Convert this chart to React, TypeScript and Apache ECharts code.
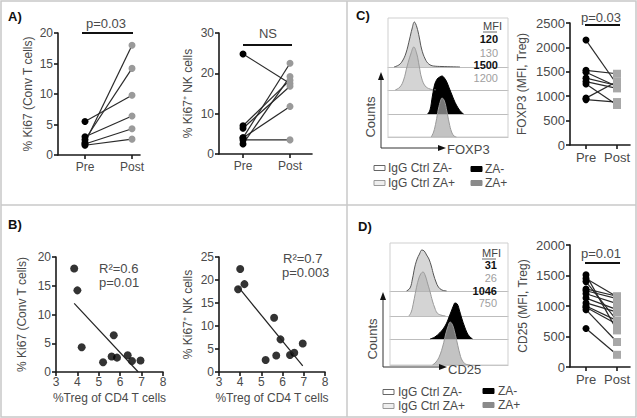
import React, { useEffect, useRef } from "react";
import * as echarts from "echarts";

// ---------- data ----------
const prePostLabels = ["Pre", "Post"];

// Panel A
const aConvPre = [5.5, 2.0, 2.5, 3.0, 1.8, 1.6];
const aConvPost = [9.8, 18.0, 14.2, 6.4, 4.3, 2.6];
const aNkPre = [24.8, 7.0, 6.4, 4.0, 2.5, 4.0, 3.5];
const aNkPost = [17.5, 18.3, 16.8, 22.5, 19.2, 11.8, 3.5];

// Panel B
const bTregConv = [3.85, 4.0, 4.2, 5.2, 5.6, 5.7, 5.85, 6.35, 6.55, 6.95];
const bConvKi67 = [18, 14.2, 4.3, 1.7, 2.7, 6.4, 2.5, 2.9, 1.9, 2.0];
const bTregNk = [3.9, 4.0, 4.2, 5.2, 5.6, 5.7, 5.9, 6.35, 6.55, 6.95];
const bNkKi67 = [18, 22.4, 19.1, 2.6, 11.8, 3.6, 7.1, 3.7, 4.2, 6.2];

// Panel C (FOXP3 MFI)
const cPre = [2150, 1530, 1490, 1370, 1300, 1250, 960, 930];
const cPost = [1240, 1460, 1200, 1220, 1160, 820, 1300, 880];
const cMfi = ["120", "130", "1500", "1200"];

// Panel D (CD25 MFI)
const dPre = [1510, 1450, 1400, 1280, 1250, 1200, 1130, 1050, 1000, 980, 940, 630];
const dPost = [600, 1150, 760, 1160, 1120, 1040, 940, 900, 760, 700, 410, 200];
const dMfi = ["31", "26", "1046", "750"];

// Histograms: [fluorescence position 0-100, counts]
const cHistIgGMinus = [[5, 0], [9, 2], [12, 6], [15, 14], [18, 28], [20, 38], [22, 45], [24, 40], [26, 30], [28, 18], [31, 8], [34, 3], [38, 1], [45, 0.5], [60, 0]];
const cHistIgGPlus = [[6, 0], [10, 3], [13, 10], [16, 24], [19, 36], [21.5, 43], [24, 36], [26, 24], [28, 12], [31, 4], [35, 1], [40, 0]];
const cHistZAMinus = [[33, 0], [35, 4], [37, 18], [39, 30], [41, 35], [43, 37], [45, 38], [47, 36], [49, 32], [51, 26], [53, 20], [55, 14], [57, 9], [59, 5], [61, 2], [63, 0]];
const cHistZAPlus = [[36, 0], [38, 5], [40, 15], [42, 28], [44, 37], [45, 39], [47, 36], [49, 26], [51, 14], [53, 5], [55, 1], [57, 0]];

const dHistIgGMinus = [[14, 0], [17, 3], [19, 12], [21, 24], [23, 32], [25, 37], [27, 41], [29, 40], [31, 36], [33, 32], [35, 25], [37, 16], [39, 9], [41, 4], [44, 1], [48, 0]];
const dHistIgGPlus = [[16, 0], [18, 4], [20, 14], [22, 26], [24, 36], [26, 42], [28, 44], [30, 40], [32, 32], [34, 24], [36, 15], [38, 8], [40, 3], [43, 1], [47, 0]];
const dHistZAMinus = [[34, 0], [38, 2], [42, 6], [45, 10], [48, 16], [50, 22], [52, 28], [54, 34], [55, 36], [57, 35], [59, 28], [61, 20], [63, 13], [65, 7], [67, 3], [70, 0]];
const dHistZAPlus = [[36, 0], [39, 3], [42, 9], [45, 20], [47, 30], [49, 38], [51, 43], [53, 40], [55, 32], [57, 22], [59, 12], [61, 5], [64, 1], [68, 0]];

// ---------- styling ----------
const FONT = '"Liberation Sans", Arial, sans-serif';
const AXIS = "#1a1a1a";
const LBL = "#4a4a4a";

function regression(xs: number[], ys: number[]) {
  const n = xs.length;
  const mx = xs.reduce((a, b) => a + b, 0) / n;
  const my = ys.reduce((a, b) => a + b, 0) / n;
  let sxy = 0, sxx = 0;
  for (let i = 0; i < n; i++) {
    sxy += (xs[i] - mx) * (ys[i] - my);
    sxx += (xs[i] - mx) ** 2;
  }
  const slope = sxy / sxx;
  const icpt = my - slope * mx;
  const x0 = Math.min(...xs);
  let x1 = Math.max(...xs);
  const xZero = -icpt / slope;
  if (slope < 0 && xZero < x1) x1 = xZero;
  return [[x0, icpt + slope * x0], [x1, icpt + slope * x1]];
}

function buildOption() {
  const grid: any[] = [];
  const xAxis: any[] = [];
  const yAxis: any[] = [];
  const series: any[] = [];

  const axisLine = { show: true, onZero: false, lineStyle: { color: AXIS, width: 1.6 } };
  const axisTick = { show: true, length: 4, lineStyle: { color: AXIS, width: 1.6 } };
  const label = (fs: number, margin: number) => ({ color: LBL, fontSize: fs, fontFamily: FONT, margin });

  const add = (g: any, x: any, y: any) => {
    grid.push({ ...g, outerBoundsMode: "none", containLabel: false });
    const i = grid.length - 1;
    xAxis.push({ ...x, gridIndex: i });
    yAxis.push({ ...y, gridIndex: i });
    return i;
  };

  const pairX = (min: number, max: number, fs: number) => ({
    type: "value", min, max,
    axisLine,
    axisTick: { ...axisTick, customValues: [0, 1] },
    axisLabel: { ...label(fs, 6), customValues: [0, 1], formatter: (v: number) => prePostLabels[Math.round(v)] ?? "" },
    splitLine: { show: false },
  });
  const valY = (max: number, interval: number, name: string, gap: number, fs: number) => ({
    type: "value", min: 0, max, interval,
    axisLine, axisTick,
    axisLabel: { ...label(fs, 5), formatter: (v: number) => String(v) },
    splitLine: { show: false },
    name, nameLocation: "middle", nameGap: gap,
    nameTextStyle: { color: LBL, fontSize: 12, fontFamily: FONT },
  });

  const addPairs = (gi: number, pre: number[], post: number[], postSymbol: string, postColor: string, postSize: number) => {
    pre.forEach((p, i) => {
      series.push({
        type: "line", xAxisIndex: gi, yAxisIndex: gi, silent: true,
        lineStyle: { color: "#2a2a2a", width: 1.2 },
        data: [
          { value: [0, p], symbol: "circle", symbolSize: 7, itemStyle: { color: "#000" } },
          { value: [1, post[i]], symbol: postSymbol, symbolSize: postSize, itemStyle: { color: postColor } },
        ],
      });
    });
  };

  // A left
  const gA1 = add({ left: 58, top: 33, width: 82, height: 122 }, pairX(-0.574, 1.17, 12), valY(20, 5, "% Ki67 (Conv T cells)", 24, 12));
  addPairs(gA1, aConvPre, aConvPost, "circle", "#9a9a9a", 7);
  // A right
  const gA2 = add({ left: 219, top: 33, width: 93, height: 121 }, pairX(-0.511, 1.468, 12), valY(30, 10, "% Ki67\u207A NK cells", 25, 12));
  addPairs(gA2, aNkPre, aNkPost, "circle", "#9a9a9a", 7);

  // B
  const bX = (name: string) => ({
    type: "value", min: 3, max: 8, interval: 1,
    axisLine, axisTick, axisLabel: label(12, 4), splitLine: { show: false },
    name, nameLocation: "middle", nameGap: 20,
    nameTextStyle: { color: LBL, fontSize: 12, fontFamily: FONT },
  });
  const gB1 = add({ left: 56, top: 257, width: 107, height: 115 }, bX("%Treg of CD4 T cells"), valY(20, 5, "% Ki67 (Conv T cells)", 28, 12));
  series.push({ type: "scatter", xAxisIndex: gB1, yAxisIndex: gB1, symbolSize: 8, itemStyle: { color: "#000" }, data: bTregConv.map((x, i) => [x, bConvKi67[i]]) });
  series.push({ type: "line", xAxisIndex: gB1, yAxisIndex: gB1, symbol: "none", lineStyle: { color: "#222", width: 1.2 }, data: regression(bTregConv, bConvKi67) });
  const gB2 = add({ left: 219, top: 257, width: 106, height: 115 }, bX("%Treg of CD4 T cells"), valY(25, 5, "% Ki67\u207A NK cells", 25, 12));
  series.push({ type: "scatter", xAxisIndex: gB2, yAxisIndex: gB2, symbolSize: 8, itemStyle: { color: "#000" }, data: bTregNk.map((x, i) => [x, bNkKi67[i]]) });
  series.push({ type: "line", xAxisIndex: gB2, yAxisIndex: gB2, symbol: "none", lineStyle: { color: "#222", width: 1.2 }, data: regression(bTregNk, bNkKi67) });

  // C right / D right
  const gC = add({ left: 570, top: 23, width: 60, height: 122 }, pairX(-0.516, 1.419, 13), valY(2500, 500, "FOXP3 (MFI, Treg)", 42, 13));
  addPairs(gC, cPre, cPost, "rect", "#a8a8a8", 8);
  const gD = add({ left: 570, top: 245, width: 60, height: 122 }, pairX(-0.516, 1.419, 13), valY(2000, 500, "CD25 (MFI, Treg)", 41, 13));
  addPairs(gD, dPre, dPost, "rect", "#a8a8a8", 8);

  // Histograms
  const histRow = (left: number, width: number, baseline: number, data: number[][], line: string, fill: string, opacity: number) => {
    const gi = add(
      { left, width, top: baseline - 60, height: 60 },
      { type: "value", min: 0, max: 100, axisLine: { show: true, onZero: false, lineStyle: { color: "#bdbdbd", width: 1 } }, axisTick: { show: false }, axisLabel: { show: false }, splitLine: { show: false } },
      { type: "value", min: 0, max: 60, show: false, splitLine: { show: false } }
    );
    series.push({
      type: "line", xAxisIndex: gi, yAxisIndex: gi, smooth: 0.4, symbol: "none", silent: true,
      lineStyle: { color: line, width: 1 },
      areaStyle: { color: fill, opacity },
      data,
    });
  };
  histRow(388, 120, 67, cHistIgGMinus, "#555", "#d6d6d6", 1);
  histRow(388, 120, 90, cHistIgGPlus, "#9a9a9a", "#b0b0b0", 0.55);
  histRow(388, 120, 114, cHistZAMinus, "#000", "#000", 1);
  histRow(388, 120, 137, cHistZAPlus, "#999", "#aaaaaa", 0.7);
  histRow(390, 118, 291, dHistIgGMinus, "#555", "#d6d6d6", 1);
  histRow(390, 118, 316, dHistIgGPlus, "#9a9a9a", "#b0b0b0", 0.55);
  histRow(390, 118, 339, dHistZAMinus, "#000", "#000", 1);
  histRow(390, 118, 365, dHistZAPlus, "#999", "#aaaaaa", 0.7);

  // ---------- graphic ----------
  const T = (text: string, x: number, y: number, o: any = {}) => ({
    type: "text", x, y, rotation: o.rotation || 0, z: 10,
    style: {
      text, fill: o.fill || LBL, fontSize: o.fs || 12, fontFamily: FONT, fontWeight: o.fw || "normal",
      align: o.align || "left", verticalAlign: "middle",
    },
  });
  const L = (x1: number, y1: number, x2: number, y2: number, stroke = "#111", lw = 2) => ({
    type: "line", z: 10, shape: { x1, y1, x2, y2 }, style: { stroke, lineWidth: lw },
  });
  const P = (points: number[][], fill: string) => ({ type: "polygon", z: 10, shape: { points }, style: { fill } });
  const R = (x: number, y: number, w: number, h: number, fill: string, stroke: string) => ({
    type: "rect", z: 10, shape: { x, y, width: w, height: h }, style: { fill, stroke, lineWidth: 1 },
  });

  const el: any[] = [];
  // frame
  el.push({ type: "rect", z: 0, shape: { x: 1, y: 1, width: 635, height: 416 }, style: { fill: "none", stroke: "#c8c8c8", lineWidth: 1.5 } });
  el.push(L(1, 205, 636, 205, "#c8c8c8", 1.5));
  el.push(L(347, 1, 347, 417, "#c8c8c8", 1.5));
  // panel labels
  el.push(T("A)", 8, 16, { fw: "bold", fill: "#111", fs: 13 }));
  el.push(T("B)", 8, 224, { fw: "bold", fill: "#111", fs: 13 }));
  el.push(T("C)", 356, 15, { fw: "bold", fill: "#111", fs: 13 }));
  el.push(T("D)", 358, 226, { fw: "bold", fill: "#111", fs: 13 }));
  // significance
  el.push(T("p=0.03", 106, 23, { align: "center", fs: 13 }));
  el.push(L(82, 33, 133, 33));
  el.push(T("NS", 268, 33, { align: "center", fs: 13 }));
  el.push(L(243, 45, 292, 45));
  el.push(T("p=0.03", 601, 17, { align: "center", fs: 13 }));
  el.push(L(585, 25, 620, 25));
  el.push(T("p=0.01", 601, 253, { align: "center", fs: 13 }));
  el.push(L(585, 263, 620, 263));
  // regression stats
  el.push(T("R\u00B2=0.6", 99, 268, { fs: 13 }));
  el.push(T("p=0.01", 99, 282, { fs: 13 }));
  el.push(T("R\u00B2=0.7", 283, 258, { fs: 13 }));
  el.push(T("p=0.003", 282, 272, { fs: 13 }));

  // histogram boxes
  el.push({ type: "rect", z: 1, shape: { x: 388, y: 18, width: 120, height: 119 }, style: { fill: "none", stroke: "#cfcfcf", lineWidth: 1 } });
  el.push({ type: "rect", z: 1, shape: { x: 390, y: 243, width: 118, height: 122 }, style: { fill: "none", stroke: "#cfcfcf", lineWidth: 1 } });

  // MFI texts
  const mfi = (vals: string[], xr: number, yTitle: number, ys: number[]) => {
    el.push(T("MFI", xr - 15, yTitle, { fs: 11, fill: "#444" }));
    el.push(L(xr - 15, yTitle + 6, xr - 1, yTitle + 6, "#444", 0.8));
    vals.forEach((v, i) => {
      const bold = i % 2 === 0;
      el.push(T(v, xr, ys[i], { fs: 11, align: "right", fw: bold ? "bold" : "normal", fill: bold ? "#111" : "#a0a0a0" }));
    });
  };
  mfi(cMfi, 498, 26, [39, 53, 65, 78]);
  mfi(dMfi, 497, 253, [265, 278, 291, 303]);

  // Counts arrows
  el.push(L(381, 80, 381, 148, "#333", 1));
  el.push(L(381, 148, 439, 148, "#333", 1));
  el.push(P([[381, 72], [378, 80], [384, 80]], "#111"));
  el.push(P([[446, 148], [438, 145], [438, 151]], "#111"));
  el.push(T("Counts", 370, 117, { rotation: Math.PI / 2, align: "center", fs: 13 }));
  el.push(T("FOXP3", 447, 149, { fs: 13 }));

  el.push(L(383, 300, 383, 367, "#333", 1));
  el.push(L(383, 367, 440, 367, "#333", 1));
  el.push(P([[383, 292], [380, 300], [386, 300]], "#111"));
  el.push(P([[447, 367], [439, 364], [439, 370]], "#111"));
  el.push(T("Counts", 372, 339, { rotation: Math.PI / 2, align: "center", fs: 13 }));
  el.push(T("CD25", 448, 369, { fs: 13 }));

  // legends
  const legend = (rx: number, tx: number, y1: number, y2: number, rx2: number, tx2: number, z1: number, z2: number) => {
    el.push(R(rx, y1 - 2.5, 11, 5, "#fff", "#666"));
    el.push(R(rx, y2 - 2.5, 11, 5, "#eeeeee", "#999"));
    el.push(T("IgG Ctrl ZA-", tx, y1));
    el.push(T("IgG Ctrl ZA+", tx, y2));
    el.push(R(rx2, z1 - 2.5, 11, 5, "#000", "#000"));
    el.push(R(rx2, z2 - 2.5, 11, 5, "#8a8a8a", "#8a8a8a"));
    el.push(T("ZA-", tx2, z1));
    el.push(T("ZA+", tx2, z2));
  };
  legend(374, 388, 168, 183, 471, 485, 169, 183);
  legend(383, 398, 392, 406, 483, 498, 391, 405);

  return {
    animation: false,
    backgroundColor: "#ffffff",
    grid, xAxis, yAxis, series,
    graphic: { elements: el },
  };
}

export default function App() {
  const ref = useRef<HTMLDivElement>(null);
  useEffect(() => {
    if (!ref.current) return;
    const chart = echarts.init(ref.current, null, { renderer: "svg" });
    chart.setOption(buildOption() as any);
    return () => chart.dispose();
  }, []);
  return <div ref={ref} style={{ position: "absolute", left: 0, top: 0, width: 637, height: 418 }} />;
}
